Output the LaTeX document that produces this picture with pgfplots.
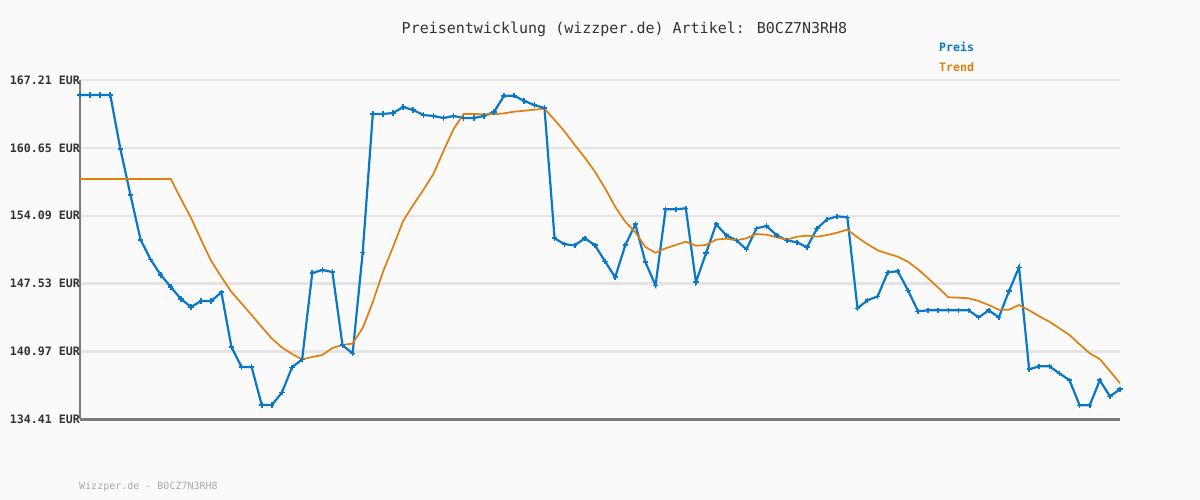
\documentclass[border=0pt]{standalone}
\usepackage{pgfplots}
\pgfplotsset{compat=1.18}
\usepackage{pgfplotstable}
\usepackage{fontspec}
\setmainfont{DejaVu Sans Mono}
\setmonofont{DejaVu Sans Mono}
\definecolor{bgc}{HTML}{FAFAFA}
\definecolor{gridc}{HTML}{E4E4E4}
\definecolor{axc}{HTML}{7A7A7A}
\definecolor{preis}{HTML}{0A78C8}
\definecolor{trend}{HTML}{E07F10}
\definecolor{txt}{HTML}{333333}
\definecolor{foot}{HTML}{AAAAAA}

\pgfplotstableread{
i p
0 165.76
1 165.76
2 165.76
3 165.76
4 160.54
5 156.10
6 151.78
7 149.85
8 148.37
9 147.21
10 146.05
11 145.28
12 145.86
13 145.86
14 146.70
15 141.41
16 139.48
17 139.48
18 135.81
19 135.81
20 137.02
21 139.45
22 140.22
23 148.56
24 148.85
25 148.66
26 141.58
27 140.80
28 150.56
29 163.93
30 163.93
31 164.02
32 164.60
33 164.31
34 163.83
35 163.73
36 163.54
37 163.73
38 163.54
39 163.54
40 163.73
41 164.12
42 165.69
43 165.69
44 165.18
45 164.79
46 164.50
47 151.92
48 151.34
49 151.24
50 151.92
51 151.24
52 149.69
53 148.15
54 151.24
55 153.27
56 149.60
57 147.37
58 154.72
59 154.72
60 154.81
61 147.69
62 150.47
63 153.27
64 152.21
65 151.72
66 150.85
67 152.88
68 153.10
69 152.21
70 151.72
71 151.53
72 151.05
73 152.88
74 153.75
75 154.04
76 153.94
77 145.15
78 145.93
79 146.31
80 148.63
81 148.73
82 146.89
83 144.86
84 144.96
85 144.96
86 144.96
87 144.96
88 144.96
89 144.28
90 144.96
91 144.28
92 146.80
93 149.11
94 139.26
95 139.55
96 139.55
97 138.87
98 138.20
99 135.78
100 135.78
101 138.20
102 136.65
103 137.33
}\preisdata

\pgfplotstableread{
i t
0 157.64
1 157.64
2 157.64
3 157.64
4 157.64
5 157.64
6 157.64
7 157.64
8 157.64
9 157.64
10 155.71
11 153.88
12 151.75
13 149.72
14 148.18
15 146.73
16 145.62
17 144.50
18 143.35
19 142.23
20 141.37
21 140.74
22 140.22
23 140.45
24 140.64
25 141.32
26 141.61
27 141.75
28 143.25
29 145.76
30 148.66
31 151.07
32 153.59
33 155.13
34 156.58
35 158.13
36 160.35
37 162.48
38 163.93
39 163.93
40 163.90
41 163.90
42 163.99
43 164.15
44 164.24
45 164.34
46 164.44
47 163.35
48 162.22
49 160.93
50 159.70
51 158.35
52 156.75
53 154.97
54 153.52
55 152.50
56 151.07
57 150.52
58 150.95
59 151.27
60 151.59
61 151.20
62 151.27
63 151.78
64 151.88
65 151.72
66 151.92
67 152.33
68 152.26
69 152.01
70 151.78
71 152.07
72 152.17
73 152.07
74 152.23
75 152.46
76 152.75
77 152.01
78 151.34
79 150.76
80 150.43
81 150.14
82 149.65
83 148.92
84 148.05
85 147.14
86 146.22
87 146.18
88 146.12
89 145.86
90 145.47
91 145.02
92 145.02
93 145.47
94 144.96
95 144.38
96 143.86
97 143.22
98 142.57
99 141.67
100 140.80
101 140.25
102 139.09
103 137.91
}\trenddata

\begin{document}
\begin{tikzpicture}[x=1pt,y=1pt]
\fill[bgc] (0,0) rectangle (1200,500);
\begin{axis}[
  at={(80pt,80.5pt)}, anchor=south west,
  scale only axis, width=1040pt, height=339.5pt,
  xmin=0, xmax=103, ymin=134.41, ymax=167.21,
  axis x line*=bottom, axis y line*=left,
  axis line style={draw=axc, line width=2.5pt, -},
  xtick=\empty,
  ytick={134.41,140.97,147.53,154.09,160.65,167.21},
  yticklabels={134.41 EUR,140.97 EUR,147.53 EUR,154.09 EUR,160.65 EUR,167.21 EUR},
  yticklabel style={font=\fontsize{11.6}{13}\selectfont\bfseries, text=txt, inner sep=0pt, anchor=east},
  major tick length=0pt,
  ymajorgrids, grid style={draw=gridc, line width=2.5pt},
  clip=false,
  legend style={draw=none, fill=none, at={(rel axis cs:0.826,1.113)}, anchor=north west,
    font=\fontsize{11.6}{13}\selectfont\bfseries, row sep=10pt, inner sep=0pt,
    nodes={inner sep=0pt}},
  legend cell align=left,
  legend image code/.code={},
]
\addplot[draw=preis, line width=2.2pt, mark=+, mark size=2.6pt,
  mark options={line width=1.6pt, draw=preis}] table[x=i,y=p] {\preisdata};
\addlegendentry{\textcolor{preis}{Preis}}
\addplot[draw=trend, line width=1.7pt, no marks] table[x=i,y=t] {\trenddata};
\addlegendentry{\textcolor{trend}{Trend}}
\end{axis}
\node[text=txt, font=\fontsize{15}{18}\selectfont] at (624.5,471) {Preisentwicklung (wizzper.de) Artikel: B0CZ7N3RH8};
\node[text=foot, font=\fontsize{10}{12}\selectfont, anchor=west, inner sep=0pt] at (79,13) {Wizzper.de - B0CZ7N3RH8};
\end{tikzpicture}
\end{document}
